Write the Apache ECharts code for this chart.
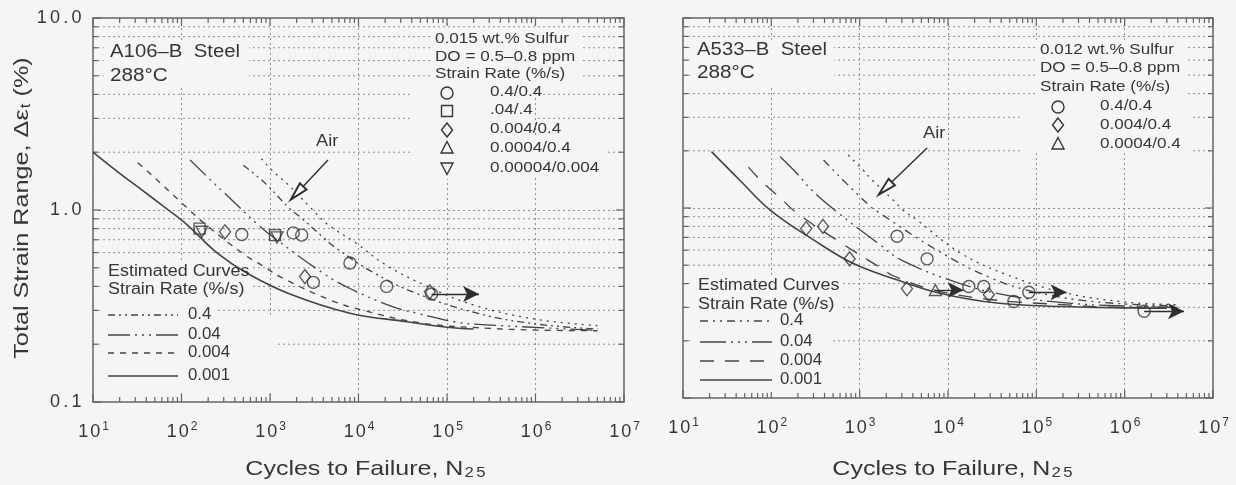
<!DOCTYPE html>
<html>
<head>
<meta charset="utf-8">
<title>Fatigue life of A106-B and A533-B steels at 288°C</title>
<script src="https://cdn.jsdelivr.net/npm/echarts@6/dist/echarts.min.js"></script>
<style>
  html, body { margin: 0; padding: 0; background: #f5f5f3; }
  #chart { width: 1236px; height: 485px; }
</style>
</head>
<body>
<div id="chart"></div>
<script>
// ---- axis ticks -------------------------------------------------------
const xDecades = [10, 100, 1000, 10000, 100000, 1000000, 10000000];
const xExponents = ['1', '2', '3', '4', '5', '6', '7'];
const yDecades = [0.1, 1, 10];
const yTickLabels = ['0.1', '1.0', '10.0'];
const xMinorTicks = [
  20, 30, 40, 50, 60, 70, 80, 90,
  200, 300, 400, 500, 600, 700, 800, 900,
  2000, 3000, 4000, 5000, 6000, 7000, 8000, 9000,
  20000, 30000, 40000, 50000, 60000, 70000, 80000, 90000,
  200000, 300000, 400000, 500000, 600000, 700000, 800000, 900000,
  2000000, 3000000, 4000000, 5000000, 6000000, 7000000, 8000000, 9000000
];
const yMinorTicks = [0.2, 0.3, 0.4, 0.5, 0.6, 0.7, 0.8, 0.9, 2, 3, 4, 5, 6, 7, 8, 9];

// ---- A106-B steel: estimated curves [cycles, strain range %] ----------
const a106Air   = [[800,1.85],[1100,1.58],[1540,1.38],[2700,1.06],[4500,0.84],[9100,0.68],[20000,0.52],[60000,0.40],[200000,0.32],[1000000,0.27],[5000000,0.25]];
const a106R04   = [[500,1.71],[740,1.48],[910,1.36],[1660,1.02],[2190,0.92],[4000,0.72],[5400,0.64],[15000,0.47],[45000,0.368],[220000,0.29],[1000000,0.255],[5000000,0.24]];
const a106R004  = [[125,1.82],[240,1.36],[310,1.22],[738,0.835],[1190,0.70],[4000,0.468],[8000,0.39],[24600,0.313],[45700,0.29],[130000,0.26],[250000,0.253],[5000000,0.236]];
const a106R0004 = [[32,1.76],[39,1.63],[59,1.37],[94,1.12],[200,0.82],[521,0.583],[840,0.51],[1290,0.45],[4760,0.34],[11300,0.30],[54000,0.257],[300000,0.242],[1000000,0.237],[5000000,0.235]];
const a106R0001 = [[10,2.0],[20,1.55],[35,1.28],[60,1.06],[115,0.84],[250,0.60],[546,0.47],[1680,0.365],[8000,0.29],[35000,0.262],[100000,0.245],[200000,0.24]];

// ---- A106-B steel: test data ------------------------------------------
const a106Circle   = [[480,0.745],[1830,0.76],[2280,0.74],[3090,0.42],[8000,0.53],[20800,0.40],[67000,0.365]];
const a106Square   = [[160,0.80],[1140,0.74]];
const a106Diamond  = [[310,0.77],[2480,0.45],[64000,0.375]];
const a106DownTri  = [[170,0.77],[1200,0.72]];
const a106Runouts  = [[[67000,0.365],[230000,0.365]]];
const a106AirArrow = [[4520,1.82],[2020,1.226]];

// ---- A533-B steel: estimated curves -----------------------------------
const a533Air   = [[740,1.90],[1070,1.60],[1390,1.40],[2400,1.10],[3100,0.976],[4450,0.865],[13800,0.58],[46800,0.445],[200000,0.36],[1000000,0.32],[4000000,0.31]];
const a533R04   = [[390,1.79],[525,1.55],[650,1.40],[1320,1.02],[1590,0.957],[7500,0.60],[30000,0.43],[100000,0.36],[500000,0.32],[4000000,0.305]];
const a533R004  = [[126,1.86],[200,1.50],[288,1.24],[550,0.957],[1700,0.64],[3000,0.53],[13800,0.40],[50000,0.345],[250000,0.315],[1000000,0.305],[4000000,0.30]];
const a533R0004 = [[55,1.64],[79,1.37],[126,1.13],[195,0.94],[600,0.66],[1780,0.48],[2400,0.44],[7000,0.37],[30000,0.33],[200000,0.31],[1000000,0.30],[4000000,0.30]];
const a533R0001 = [[21,1.98],[44,1.40],[97,0.976],[300,0.68],[850,0.51],[2640,0.419],[8100,0.356],[36000,0.316],[200000,0.303],[1200000,0.298],[3000000,0.297]];

// ---- A533-B steel: test data ------------------------------------------
const a533Circle   = [[2650,0.71],[5800,0.54],[17200,0.386],[25400,0.386],[55600,0.322],[82200,0.36],[1660000,0.286]];
const a533Diamond  = [[248,0.78],[384,0.80],[770,0.54],[3430,0.376],[29000,0.35]];
const a533Triangle = [[7200,0.37]];
const a533Runouts  = [[[7200,0.37],[15000,0.37]],[[82200,0.36],[220000,0.36]],[[1660000,0.286],[4700000,0.286]]];
const a533AirArrow = [[5800,2.07],[1950,1.27]];

// ---- legend texts -----------------------------------------------------
const curveRates = ['0.4', '0.04', '0.004', '0.001'];
const a106Rates = ['0.4/0.4', '.04/.4', '0.004/0.4', '0.0004/0.4', '0.00004/0.004'];
const a533Rates = ['0.4/0.4', '0.004/0.4', '0.0004/0.4'];

// ---- styles -----------------------------------------------------------
const FONT = '"Liberation Sans", Arial, Helvetica, sans-serif';
const INK = '#363636';
const BG = '#f5f5f3';
const AXIS = '#636363';
const GRID = '#8f8f8f';
const CURVE = '#444444';
const TEXT_SCALE = 1.14;

const dashA106 = { '0.4': [7, 4, 2, 4, 2, 4], '0.04': [22, 5, 2, 5, 2, 5, 2, 5], '0.004': [6, 6], '0.001': 'solid', air: [2, 5] };
const dashA533 = { '0.4': [8, 5, 2, 5, 2, 5], '0.04': [26, 5, 2, 5, 2, 5, 2, 5], '0.004': [14, 11], '0.001': 'solid', air: [2, 5] };

function near(a, b) { return Math.abs(Math.log10(a) - Math.log10(b)) < 1e-6; }

function spaced(str, key) {
  return str.split('').map(c => '{' + key + '|' + c + '}').join('');
}

function xAxisFor(gi, showLabels) {
  return {
    type: 'log', logBase: 10, gridIndex: gi, min: 10, max: 10000000, splitNumber: 6,
    axisLine: { show: false },
    axisTick: { show: false },
    splitLine: { show: true, lineStyle: { color: GRID, width: 1, type: [2, 3] } },
    axisLabel: {
      show: showLabels, margin: 19, showMinLabel: true, showMaxLabel: true,
      formatter: v => {
        const i = xDecades.findIndex(d => near(d, v));
        return i < 0 ? '' : spaced('10', 'd') + '{s|' + xExponents[i] + '}';
      },
      rich: {
        d: { fontFamily: FONT, fontSize: 18, color: INK, padding: [0, 1, 0, 1], lineHeight: 22 },
        s: { fontFamily: FONT, fontSize: 12, color: INK, verticalAlign: 'top', lineHeight: 14, padding: [0, 0, 0, 1] }
      }
    }
  };
}

function yAxisFor(gi, showLabels) {
  return {
    type: 'log', logBase: 10, gridIndex: gi, min: 0.1, max: 10, splitNumber: 2,
    axisLine: { show: false },
    axisTick: { show: false },
    splitLine: { show: true, lineStyle: { color: GRID, width: 1, type: [2, 3] } },
    axisLabel: {
      show: showLabels, margin: 10, showMinLabel: true, showMaxLabel: true,
      formatter: v => {
        const i = yDecades.findIndex(d => near(d, v));
        return i < 0 ? '' : spaced(yTickLabels[i], 'c');
      },
      rich: { c: { fontFamily: FONT, fontSize: 18, color: INK, padding: [0, 1.6, 0, 1.6] } }
    }
  };
}

// Horizontal dotted gridlines plus inner ticks on both vertical frame edges
function yTickSeries(gi, values, len, withLine) {
  return {
    type: 'custom', xAxisIndex: gi, yAxisIndex: gi, z: 0, silent: true, animation: false, clip: false,
    data: values.map(v => [xDecades[0], v]),
    renderItem: (params, api) => {
      const cs = params.coordSys;
      const y = api.coord([api.value(0), api.value(1)])[1];
      const children = [
        { type: 'line', shape: { x1: cs.x, y1: y, x2: cs.x + len, y2: y }, style: { stroke: AXIS, lineWidth: 1.2 } },
        { type: 'line', shape: { x1: cs.x + cs.width - len, y1: y, x2: cs.x + cs.width, y2: y }, style: { stroke: AXIS, lineWidth: 1.2 } }
      ];
      if (withLine) {
        children.unshift({ type: 'line', shape: { x1: cs.x, y1: y, x2: cs.x + cs.width, y2: y }, style: { stroke: GRID, lineWidth: 1, lineDash: [2, 3] } });
      }
      return { type: 'group', children };
    }
  };
}

// Inner ticks on the bottom and top frame edges
function xTickSeries(gi, values, len) {
  return {
    type: 'custom', xAxisIndex: gi, yAxisIndex: gi, z: 0, silent: true, animation: false, clip: false,
    data: values.map(v => [v, yDecades[0]]),
    renderItem: (params, api) => {
      const cs = params.coordSys;
      const x = api.coord([api.value(0), api.value(1)])[0];
      const b = cs.y + cs.height;
      return {
        type: 'group', children: [
          { type: 'line', shape: { x1: x, y1: b, x2: x, y2: b - len }, style: { stroke: AXIS, lineWidth: 1.2 } },
          { type: 'line', shape: { x1: x, y1: cs.y, x2: x, y2: cs.y + len }, style: { stroke: AXIS, lineWidth: 1.2 } }
        ]
      };
    }
  };
}

function curve(gi, data, dash, solid) {
  return {
    type: 'line', xAxisIndex: gi, yAxisIndex: gi, data, z: 2, silent: true, animation: false,
    showSymbol: false, symbol: 'none', smooth: 0.4,
    lineStyle: { color: CURVE, width: solid ? 1.6 : 1.3, type: dash }
  };
}

function marks(gi, data, symbol, size, rotate) {
  return {
    type: 'scatter', xAxisIndex: gi, yAxisIndex: gi, data, z: 4, silent: true, animation: false,
    symbol, symbolSize: size, symbolRotate: rotate || 0,
    itemStyle: { color: 'rgba(0,0,0,0)', borderColor: INK, borderWidth: 1.4 }
  };
}

function arrows(gi, runouts, airArrow) {
  const lines = runouts.map(r => [
    { coord: r[0], symbol: 'none' },
    { coord: r[1], symbol: 'arrow', symbolSize: [12, 16] }
  ]);
  lines.push([
    { coord: airArrow[0], symbol: 'none' },
    { coord: airArrow[1], symbol: 'emptyTriangle', symbolSize: [9, 18] }
  ]);
  return {
    type: 'line', xAxisIndex: gi, yAxisIndex: gi, data: [], z: 3, silent: true, animation: false,
    markLine: {
      silent: true, animation: false, label: { show: false }, emphasis: { disabled: true },
      lineStyle: { color: '#2e2e2e', width: 1.4, type: 'solid' },
      data: lines
    }
  };
}

// ---- text & legend graphics ---------------------------------------------
function txt(x, y, text, size, extra) {
  return Object.assign({
    type: 'text', x, y, z: 6, scaleX: TEXT_SCALE, silent: true,
    style: { text, fontFamily: FONT, fontSize: size, fill: INK, align: 'left', verticalAlign: 'middle' }
  }, extra || {});
}
function mask(x, y, w, h) {
  return { type: 'rect', z: 1, silent: true, shape: { x, y, width: w, height: h }, style: { fill: BG } };
}
const symStyle = { fill: 'none', stroke: INK, lineWidth: 1.4 };
function legCircle(cx, cy) { return { type: 'circle', z: 6, shape: { cx, cy, r: 6 }, style: symStyle }; }
function legSquare(cx, cy) { return { type: 'rect', z: 6, shape: { x: cx - 5.5, y: cy - 5.5, width: 11, height: 11 }, style: symStyle }; }
function legDiamond(cx, cy) { return { type: 'polygon', z: 6, shape: { points: [[cx, cy - 7], [cx + 5.5, cy], [cx, cy + 7], [cx - 5.5, cy]] }, style: symStyle }; }
function legTri(cx, cy) { return { type: 'polygon', z: 6, shape: { points: [[cx, cy - 6.5], [cx + 6, cy + 5], [cx - 6, cy + 5]] }, style: symStyle }; }
function legDownTri(cx, cy) { return { type: 'polygon', z: 6, shape: { points: [[cx, cy + 6.5], [cx + 6, cy - 5], [cx - 6, cy - 5]] }, style: symStyle }; }
function legLine(x1, x2, y, dash, solid) {
  return { type: 'line', z: 6, shape: { x1, y1: y, x2, y2: y }, style: { stroke: CURVE, lineWidth: solid ? 1.6 : 1.3, lineDash: dash === 'solid' ? null : dash } };
}

const graphics = [
  // areas behind text blocks
  mask(104, 40, 145, 48), mask(433, 28, 150, 57), mask(413, 84, 122, 95), mask(533, 138, 75, 40),
  mask(100, 262, 152, 38), mask(100, 300, 118, 18), mask(100, 318, 175, 72),
  mask(693, 40, 141, 48), mask(1035, 40, 152, 56), mask(1020, 96, 170, 56),
  mask(693, 277, 148, 38), mask(693, 315, 140, 77),

  // axis titles
  {
    type: 'text', x: 22, y: 208, rotation: Math.PI / 2, z: 6, scaleX: 1.2, silent: true,
    style: {
      text: '{a|Total Strain Range, Δε}{t|t}{a| (%)}', align: 'center', verticalAlign: 'middle',
      rich: {
        a: { fontFamily: FONT, fontSize: 21, fill: INK },
        t: { fontFamily: FONT, fontSize: 14, fill: INK, verticalAlign: 'bottom', padding: [8, 0, 0, 1] }
      }
    }
  },
  ...[366, 953].map(cx => ({
    type: 'text', x: cx, y: 469, z: 6, scaleX: 1.19, silent: true,
    style: {
      text: '{a|Cycles to Failure, N}{n|2}{n|5}', align: 'center', verticalAlign: 'middle',
      rich: {
        a: { fontFamily: FONT, fontSize: 21, fill: INK },
        n: { fontFamily: FONT, fontSize: 14, fill: INK, verticalAlign: 'bottom', padding: [9, 1, 0, 1] }
      }
    }
  })),

  // A106-B panel
  txt(110, 52, 'A106–B  Steel', 18, { scaleX: 1.13 }),
  txt(110, 76, '288°C', 18, { scaleX: 1.15 }),
  txt(435, 39, '0.015 wt.% Sulfur', 15),
  txt(435, 57, 'DO = 0.5–0.8 ppm', 15),
  txt(435, 74, 'Strain Rate (%/s)', 15),
  legCircle(447, 93), legSquare(447, 111), legDiamond(447, 130), legTri(447, 148), legDownTri(447, 168),
  ...a106Rates.map((t, i) => txt(490, [92, 110, 129, 148, 168][i], t, 15)),
  txt(316, 142, 'Air', 16),
  txt(108, 272, 'Estimated Curves', 16, { scaleX: 1.12 }),
  txt(108, 290, 'Strain Rate (%/s)', 16, { scaleX: 1.12 }),
  ...curveRates.map((r, i) => legLine(108, 178, [315, 335, 353, 376][i], dashA106[r], r === '0.001')),
  ...curveRates.map((r, i) => txt(188, [315, 335, 353, 376][i], r, 16, { scaleX: 1.05 })),

  // A533-B panel
  txt(697, 50, 'A533–B  Steel', 18, { scaleX: 1.13 }),
  txt(697, 73, '288°C', 18, { scaleX: 1.15 }),
  txt(1040, 50, '0.012 wt.% Sulfur', 15),
  txt(1040, 68, 'DO = 0.5–0.8 ppm', 15),
  txt(1040, 87, 'Strain Rate (%/s)', 15),
  legCircle(1058, 107), legDiamond(1058, 125), legTri(1058, 144),
  ...a533Rates.map((t, i) => txt(1100, [106, 125, 144][i], t, 15)),
  txt(923, 134, 'Air', 16),
  txt(698, 286, 'Estimated Curves', 16, { scaleX: 1.12 }),
  txt(698, 305, 'Strain Rate (%/s)', 16, { scaleX: 1.12 }),
  ...curveRates.map((r, i) => legLine(700, 772, [321, 342, 361, 380][i], dashA533[r], r === '0.001')),
  ...curveRates.map((r, i) => txt(780, [321, 342, 361, 380][i], r, 16, { scaleX: 1.05 }))
];

// ---- option -------------------------------------------------------------
const option = {
  backgroundColor: BG,
  animation: false,
  grid: [
    { left: 93, top: 18, width: 531, height: 384, show: true, borderColor: AXIS, borderWidth: 1.5, backgroundColor: 'transparent' },
    { left: 683, top: 18, width: 530, height: 380, show: true, borderColor: AXIS, borderWidth: 1.5, backgroundColor: 'transparent' }
  ],
  xAxis: [xAxisFor(0, true), xAxisFor(1, true)],
  yAxis: [yAxisFor(0, true), yAxisFor(1, false)],
  graphic: { elements: graphics },
  series: [
    yTickSeries(0, yMinorTicks, 5, true), yTickSeries(0, yDecades, 8, false),
    xTickSeries(0, xMinorTicks, 5), xTickSeries(0, xDecades, 8),
    yTickSeries(1, yMinorTicks, 5, true), yTickSeries(1, yDecades, 8, false),
    xTickSeries(1, xMinorTicks, 5), xTickSeries(1, xDecades, 8),

    curve(0, a106Air, dashA106.air), curve(0, a106R04, dashA106['0.4']), curve(0, a106R004, dashA106['0.04']),
    curve(0, a106R0004, dashA106['0.004']), curve(0, a106R0001, 'solid', true),
    curve(1, a533Air, dashA533.air), curve(1, a533R04, dashA533['0.4']), curve(1, a533R004, dashA533['0.04']),
    curve(1, a533R0004, dashA533['0.004']), curve(1, a533R0001, 'solid', true),

    arrows(0, a106Runouts, a106AirArrow),
    arrows(1, a533Runouts, a533AirArrow),

    marks(0, a106Circle, 'circle', 12), marks(0, a106Square, 'rect', 11),
    marks(0, a106Diamond, 'diamond', [11, 14]), marks(0, a106DownTri, 'triangle', [12, 11], 180),
    marks(1, a533Circle, 'circle', 12), marks(1, a533Diamond, 'diamond', [11, 14]),
    marks(1, a533Triangle, 'triangle', [12, 11])
  ]
};

const chart = echarts.init(document.getElementById('chart'), null, { renderer: 'canvas', width: 1236, height: 485 });
chart.setOption(option);
</script>
</body>
</html>
